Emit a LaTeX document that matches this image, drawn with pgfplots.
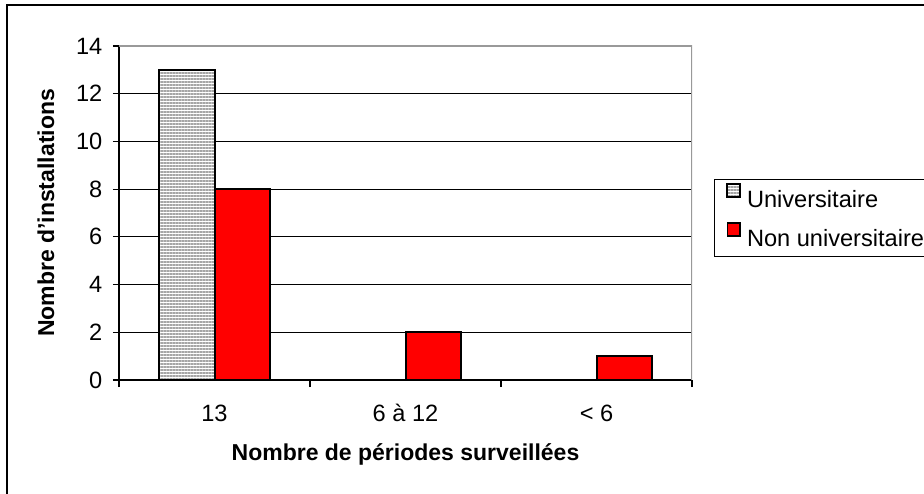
\documentclass[border=0pt]{standalone}
\usepackage{pgfplots}
\pgfplotsset{compat=1.18}
\usepackage{fontspec}
\setmainfont{Liberation Sans}
\usetikzlibrary{patterns.meta}
\begin{document}
\fontsize{11}{13}\selectfont
\begin{tikzpicture}
\useasboundingbox (0,0) rectangle (462pt,246.5pt);
\draw[line width=0.8pt] (3.5pt,-20pt) rectangle (480pt,244pt);
\begin{axis}[
  at={(59.5pt,56.5pt)}, anchor=south west,
  scale only axis, width=286.5pt, height=167pt,
  ybar=0pt, bar width=27.5pt,
  xmin=-0.5, xmax=2.5, ymin=0, ymax=14,
  xtick={0,1,2}, xticklabels={13,6 à 12,< 6},
  ytick={0,2,...,14},
  axis x line*=bottom, axis y line*=left,
  axis line style={black, line width=0.7pt},
  tick align=outside, major tick length=3pt,
  tick style={black, line width=0.6pt},
  xtick style={draw=none},
  extra x ticks={-0.5,0.5,1.5,2.5}, extra x tick labels={},
  extra x tick style={xtick style={draw=black, line width=0.6pt}, major tick length=3.5pt, grid=none},
  ymajorgrids, grid style={black, line width=0.5pt},
  tick label style={font=\fontsize{11.8}{13}\selectfont},
  /pgf/number format/assume math mode=true,
  yticklabel style={xshift=-1.5pt},
  xticklabel style={anchor=base, yshift=-17.5pt},
  xlabel={\bfseries Nombre de périodes surveillées},
  ylabel={\bfseries Nombre d'installations},
  label style={font=\fontsize{11.5}{13}\selectfont},
  xlabel style={at={(axis description cs:0.5,-0.222)}, anchor=center},
  ylabel style={at={(axis description cs:-0.1274,0.5)}, anchor=center},
  legend style={at={(axis description cs:1.0384,0.6018)}, anchor=north west,
    draw=black, line width=0.6pt, font=\fontsize{11.8}{13}\selectfont,
    inner xsep=6pt, inner ysep=2pt, row sep=4.5pt,
    nodes={inner sep=0.5pt, text height=9pt, text depth=2.5pt}},
  legend cell align=left,
  legend image code/.code={\draw[#1, line width=0.8pt] (0pt,2pt) rectangle (6.3pt,8.3pt); \path (8.8pt,0pt);},
]
\addplot[preaction={fill=white}, pattern={Lines[angle=0,distance=1.5pt,line width=0.75pt]}, pattern color=gray!70, draw=black, line width=1pt]
  coordinates {(0,13)};
\addplot[fill=red, draw=black, line width=1pt]
  coordinates {(0,8) (1,2) (2,1)};
\legend{Universitaire, Non universitaire}
\draw[gray!80, line width=0.9pt] (rel axis cs:0,1) -- (rel axis cs:1,1) -- (rel axis cs:1,0);
\end{axis}
\end{tikzpicture}
\end{document}
